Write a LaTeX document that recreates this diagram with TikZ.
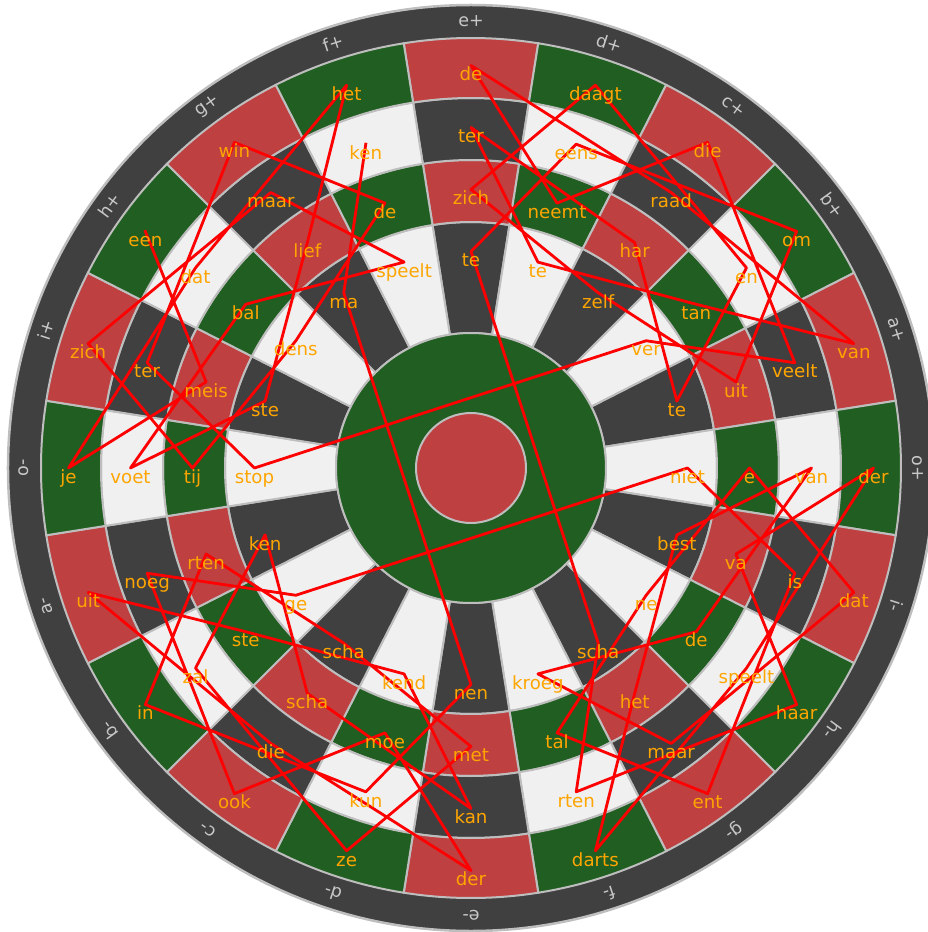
\documentclass[tikz,border=0pt]{standalone}
\usepackage{fontspec}
\setmainfont{DejaVu Sans}

\definecolor{boarddark}{RGB}{64,64,64}
\definecolor{boardlight}{RGB}{240,240,240}
\definecolor{boardred}{RGB}{191,64,64}
\definecolor{boardgreen}{RGB}{33,94,33}
\definecolor{wire}{RGB}{190,190,190}
\definecolor{wordorange}{RGB}{255,165,0}
\definecolor{ringgray}{RGB}{200,200,200}

%% sector/ring/word, in the order the route visits them
\newcommand{\wordlist}{17/0/een, 16/2/meis, 15/0/je, 17/1/dat, 19/0/het,
  18/2/lief, 16/3/ste, 15/1/voet, 17/2/bal, 19/3/speelt, 18/1/maar,
  16/0/zich, 15/2/tij, 17/3/dens, 19/2/de, 18/0/win, 16/1/ter, 15/3/stop,
  3/3/ver, 4/1/veelt, 2/0/die, 1/2/neemt, 0/0/de, 2/1/raad, 4/0/van,
  3/2/tan, 1/3/te, 0/1/ter, 2/2/har, 4/3/te, 3/1/en, 1/0/daagt, 0/2/zich,
  2/3/zelf, 4/2/uit, 3/0/om, 1/1/eens, 0/3/te, 8/3/scha, 9/1/rten,
  7/0/haar, 6/2/va, 5/0/der, 7/1/speelt, 9/0/darts, 8/2/het, 6/3/best,
  5/1/van, 7/2/de, 9/3/kroeg, 8/1/maar, 6/0/dat, 5/2/e, 7/3/ne, 9/2/tal,
  8/0/ent, 6/1/is, 5/3/niet, 13/3/ge, 14/1/noeg, 12/0/ook, 11/2/moe,
  10/0/der, 12/1/die, 14/0/uit, 13/2/ste, 11/3/kend, 10/1/kan, 12/2/scha,
  14/3/ken, 13/1/zal, 11/0/ze, 10/2/met, 12/3/scha, 14/2/rten, 13/0/in,
  11/1/kun, 10/3/nen, 18/3/ma, 19/1/ken}

%% one ring piece of a sector: centre angle, inner radius, outer radius, fill
\newcommand{\boardseg}[4]{%
  \filldraw[segline, fill=#4] ({#1-9}:#2) arc[start angle={#1-9}, end angle={#1+9}, radius=#2]
    -- ({#1+9}:#3) arc[start angle={#1+9}, end angle={#1-9}, radius=#3] -- cycle;}

\begin{document}
\begin{tikzpicture}[x=1pt, y=1pt,
  segline/.style={draw=wire, line width=2pt},
  ringlbl/.style={text=ringgray, font=\fontsize{17.5}{19}\selectfont, inner sep=0pt},
  word/.style={anchor=north, inner sep=0pt, text height=15pt, text=wordorange,
               font=\fontsize{18.2}{20}\selectfont},
  route/.style={draw=red, line width=2.8pt, line join=round, line cap=rect}
]
\useasboundingbox (-471,-464) rectangle (457,468);

%% ===== board =====
\filldraw[fill=boarddark, draw=wire, line width=2.5pt] (0,0) circle[radius=463];
\foreach \k in {0,...,19}{
  \pgfmathsetmacro{\ang}{90-18*\k}
  \pgfmathtruncatemacro{\odd}{mod(\k,2)}
  \ifnum\odd=0 \def\hitcol{boardred}\def\plaincol{boarddark}%
  \else \def\hitcol{boardgreen}\def\plaincol{boardlight}\fi
  \boardseg{\ang}{135}{246}{\plaincol}
  \boardseg{\ang}{246}{308}{\hitcol}
  \boardseg{\ang}{308}{370}{\plaincol}
  \boardseg{\ang}{370}{430}{\hitcol}
}
\filldraw[segline, fill=boardgreen] (0,0) circle[radius=135];
\filldraw[segline, fill=boardred] (0,0) circle[radius=55];

%% ===== ring labels =====
\foreach \lbl [count=\j from 0] in {e+,d+,c+,b+,a+,o+,i-,h-,g-,f-,e-,d-,c-,b-,a-,o-,i+,h+,g+,f+}
  \node[ringlbl, rotate={-18*\j}] (lab\j) at ({90-18*\j}:447) {\lbl};

%% ===== route through the words =====
\foreach \k/\r/\w [count=\i] in \wordlist
  \coordinate (w\i) at ({90-18*\k}:{402.5-62*\r});
\draw[route] (w1) \foreach \i in {2,...,80}{ -- (w\i)};

\foreach \k/\r/\w [count=\i] in \wordlist
  \node[word] (t\i) at (w\i) {\w};

\end{tikzpicture}
\end{document}
